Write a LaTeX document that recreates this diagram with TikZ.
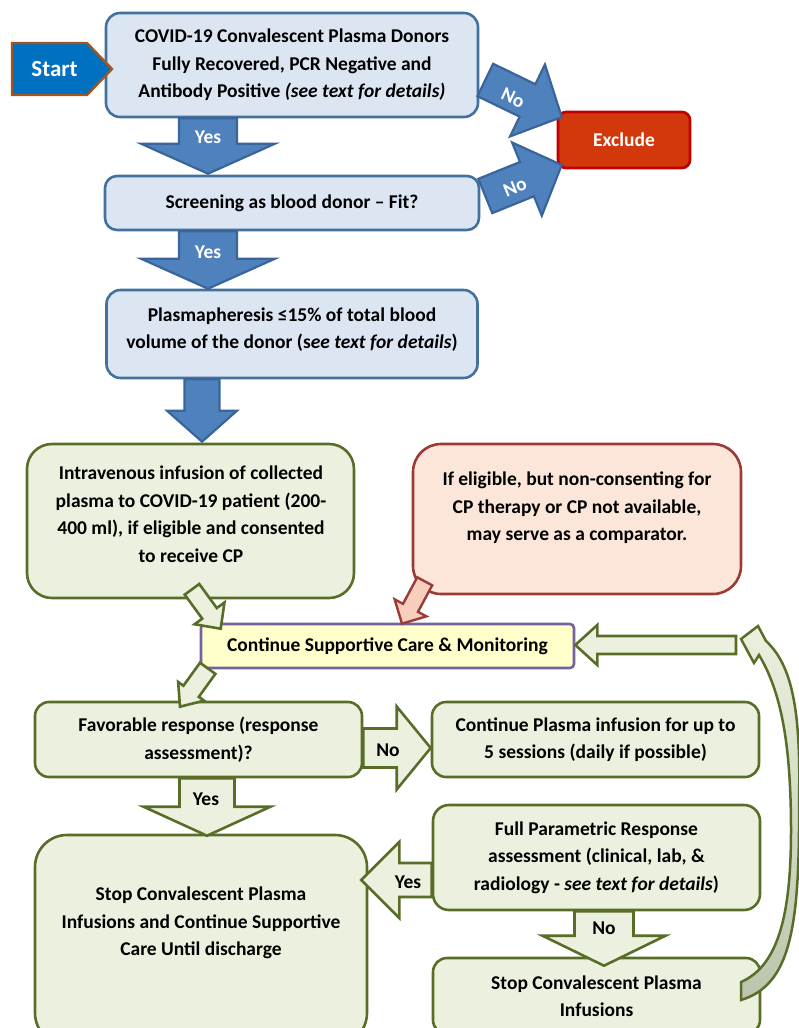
\documentclass[tikz,border=0pt]{standalone}
\usepackage{fontspec}
\setmainfont{Carlito}
\usetikzlibrary{calc}
\definecolor{bfill}{HTML}{DCE6F2}
\definecolor{bborder}{HTML}{41719C}
\definecolor{afill}{HTML}{4F81BD}
\definecolor{aborder}{HTML}{3A659A}
\definecolor{sfill}{HTML}{0070C0}
\definecolor{sborder}{HTML}{A0561E}
\definecolor{xfill}{HTML}{D2380C}
\definecolor{xborder}{HTML}{C00000}
\definecolor{gfill}{HTML}{EBF1DE}
\definecolor{gborder}{HTML}{586E28}
\definecolor{pfill}{HTML}{FCE6D9}
\definecolor{pborder}{HTML}{9A3B38}
\definecolor{pafill}{HTML}{F8CFBD}
\definecolor{yfill}{HTML}{FFFFCC}
\definecolor{yborder}{HTML}{7562A0}
\definecolor{cgray}{HTML}{BCC4AE}

\newcommand{\blockarrow}[6]{%
  \coordinate (ba-s) at #2;
  \coordinate (ba-e) at #3;
  \coordinate (ba-h) at ($(ba-e)!#6!(ba-s)$);
  \draw[#1] ($(ba-s)!#4!90:(ba-e)$) -- ($(ba-h)!#4!90:(ba-e)$) -- ($(ba-h)!#5!90:(ba-e)$) -- (ba-e) -- ($(ba-h)!#5!-90:(ba-e)$) -- ($(ba-h)!#4!-90:(ba-e)$) -- ($(ba-s)!#4!-90:(ba-e)$) -- cycle;}

\begin{document}
\begin{tikzpicture}[x=1pt,y=-1pt,
  txt/.style={font=\fontsize{19.5pt}{27.5pt}\selectfont\bfseries, align=center, inner sep=0pt},
  box/.style={txt, line width=2.6pt},
  bluebox/.style={box, draw=bborder, fill=bfill, rounded corners=14pt},
  greenbox/.style={box, draw=gborder, fill=gfill, rounded corners=14pt},
  barrow/.style={draw=aborder, fill=afill, line width=2.2pt, line join=miter},
  garrow/.style={draw=gborder, fill=gfill, line width=2.6pt, line join=miter},
  parrow/.style={draw=pborder, fill=pafill, line width=2.4pt, line join=miter},
  wlab/.style={txt, text=white},
  blab/.style={txt, text=black},
]
\useasboundingbox (0,0) rectangle (798,1028);

% ---------- boxes ----------
\node[bluebox, minimum width=372pt, minimum height=104pt] (b1) at (292,65)
  {COVID-19 Convalescent Plasma Donors\\Fully Recovered, PCR Negative and\\Antibody Positive \textit{(see text for details)}};
\node[bluebox, rounded corners=12pt, minimum width=374pt, minimum height=54pt] (b2) at (292,203)
  {Screening as blood donor – Fit?};
\node[bluebox, minimum width=371pt, minimum height=88pt] (b3) at (292,334) {};
\node[blab] (b3t) at (292,329.5) {Plasmapheresis ≤15\% of total blood\\volume of the donor (s\textit{ee text for details})};

\node[box, draw=xborder, fill=xfill, text=white, rounded corners=8pt, minimum width=132pt, minimum height=56pt] (exc) at (624,140) {Exclude};

\node[greenbox, rounded corners=25pt, minimum width=327pt, minimum height=154pt] (iv) at (190.5,521) {};
\node[blab] (ivt) at (191,514) {Intravenous infusion of collected\\plasma to COVID-19 patient (200-\\400 ml), if eligible and consented\\to receive CP};

\node[box, draw=pborder, fill=pfill, rounded corners=28pt, minimum width=328pt, minimum height=150pt] (pe) at (577,519) {};
\node[blab] (pet) at (577,508) {If eligible, but non-consenting for\\CP therapy or CP not available,\\may serve as a comparator.};

\node[box, draw=yborder, fill=yfill, rounded corners=4pt, minimum width=373pt, minimum height=44pt] (cs) at (387.5,646)
  {Continue Supportive Care \& Monitoring};

\node[greenbox, minimum width=327pt, minimum height=75pt] (fav) at (198.5,739.5)
  {Favorable response (response\\assessment)?};
\node[greenbox, minimum width=327pt, minimum height=75pt] (cp) at (595.5,739.5)
  {Continue Plasma infusion for up to\\5 sessions (daily if possible)};
\node[greenbox, rounded corners=32pt, minimum width=332pt, minimum height=210pt] (stop) at (201,940) {};
\node[blab] (stopt) at (201,923) {Stop Convalescent Plasma\\Infusions and Continue Supportive\\Care Until discharge};
\node[greenbox, rounded corners=16pt, minimum width=327pt, minimum height=105pt] (fp) at (596.5,857.5)
  {Full Parametric Response\\assessment (clinical, lab, \&\\radiology - \textit{see text for details})};
\node[greenbox, minimum width=327pt, minimum height=76pt] (st2) at (596.5,996)
  {Stop Convalescent Plasma\\Infusions};

% ---------- start ----------
\draw[draw=sborder, fill=sfill, line width=2.4pt, line join=miter] (12,43) -- (87,43) -- (112,69) -- (87,95) -- (12,95) -- cycle;
\node[wlab, font=\fontsize{23pt}{27pt}\selectfont\bfseries] (start) at (54.5,69) {Start};

% ---------- block arrows ----------
\blockarrow{barrow}{($(b1.south)+(-84,0)$)}{($(b2.north)+(-84,-1)$)}{29pt}{67pt}{30pt}
\blockarrow{barrow}{($(b2.south)+(-84,0)$)}{($(b3.north)+(-84,0)$)}{29pt}{67pt}{30pt}
\blockarrow{barrow}{($(b3.south)+(-90,0)$)}{($(iv.north)+(11.5,-1)$)}{17.5pt}{35pt}{31pt}
\blockarrow{barrow}{($(b1.east)+(6,15)$)}{($(exc.west)+(5,-23)$)}{18pt}{40pt}{38pt}
\blockarrow{barrow}{($(b2.east)+(5,-7)$)}{($(exc.west)+(5,25)$)}{18.5pt}{39.5pt}{37.5pt}

\blockarrow{parrow}{($(pe.south west)+(13,-14)$)}{($(cs.north)+(14.5,1)$)}{8.5pt}{18pt}{18pt}
\blockarrow{garrow}{($(iv.south)+(1.5,-10)$)}{($(cs.north west)+(21,6)$)}{9pt}{18.5pt}{19pt}
\blockarrow{garrow}{($(cs.south west)+(8,-1)$)}{($(fav.north)+(-18.5,6)$)}{9.5pt}{16pt}{19pt}
\blockarrow{garrow}{($(fav.east)+(0,8.5)$)}{($(cp.west)+(0,8.5)$)}{19.5pt}{41.5pt}{34pt}
\blockarrow{garrow}{($(fav.south)+(8.5,0)$)}{($(stop.north)+(6,2)$)}{27.5pt}{63.5pt}{29pt}
\blockarrow{garrow}{($(fp.west)+(0,22.5)$)}{($(stop.east)+(-7,-60)$)}{17pt}{38pt}{38pt}
\blockarrow{garrow}{($(fp.south)+(7.5,0)$)}{($(st2.north)+(7.5,9)$)}{29.5pt}{61.5pt}{30pt}

\coordinate (loop) at (736,645);
\blockarrow{garrow}{(loop)}{($(cs.east)+(0,-1)$)}{9pt}{20pt}{22pt}

% ---------- curved return arrow ----------
\draw[draw=gborder, line width=2.5pt, line join=miter, top color=gfill, bottom color=cgray]
  (741,639) -- (758,626) -- (766,641)
  .. controls (792,665) and (801,710) .. (799,800)
  .. controls (800,930) and (790,985) .. (741,1000)
  -- (741,982)
  .. controls (780,965) and (791,910) .. (791,830)
  .. controls (791,740) and (780,690) .. (759,655)
  -- (754,663) -- cycle;

% ---------- labels ----------
\node[wlab] (y1) at (208,137) {Yes};
\node[wlab] (y2) at (208,252) {Yes};
\node[wlab, rotate=-25] (n1) at (513,98) {No};
\node[wlab, rotate=22] (n2) at (515,187) {No};
\node[blab] (n3) at (388,750) {No};
\node[blab] (y3) at (206,799) {Yes};
\node[blab] (y4) at (408,882) {Yes};
\node[blab] (n4) at (604,928) {No};
\end{tikzpicture}
\end{document}
